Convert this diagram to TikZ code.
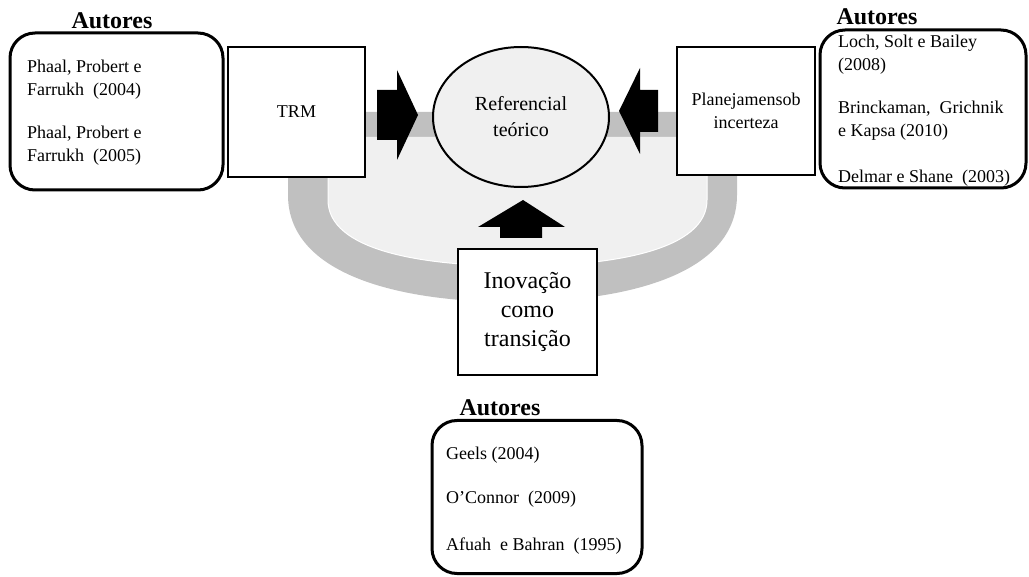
\documentclass[tikz,border=0pt]{standalone}
\usepackage{fontspec}
\setmainfont{Liberation Serif}
\usetikzlibrary{shapes.geometric}
\definecolor{band}{HTML}{C0C0C0}
\definecolor{inner}{HTML}{F0F0F0}
\tikzset{
  rbox/.style={draw=black, line width=3pt, rounded corners=25pt, inner sep=0pt},
  sqbox/.style={draw=black, line width=2pt, fill=white, inner sep=0pt},
  autor/.style={font=\fontsize{24}{28}\selectfont\bfseries, inner sep=0pt},
  ref/.style={font=\fontsize{18}{23}\selectfont, align=left, anchor=west, inner sep=0pt},
  blockarrow/.style={fill=black},
}
\begin{document}
\begin{tikzpicture}[x=1pt,y=-1pt]
\useasboundingbox (0,0) rectangle (1029,577);
% bowl band
\fill[band] (288,112) -- (737,112) -- (737,195)
  .. controls (737,275) and (625,302) .. (512,302)
  .. controls (400,302) and (288,275) .. (288,195) -- cycle;
\fill[inner] (328,137) -- (707,137) -- (707,200)
  .. controls (707,250) and (614,266) .. (517,266)
  .. controls (420,266) and (328,250) .. (328,200) -- cycle;
\draw[white, line width=1pt] (707,175) -- (707,200)
  .. controls (707,250) and (614,266) .. (517,266)
  .. controls (420,266) and (328,250) .. (328,200) -- (328,175);

% rounded author boxes
\node[rbox, minimum width=213pt, minimum height=157pt] (boxL) at (116.5,111.5) {};
\node[rbox, minimum width=206pt, minimum height=158pt] (boxR) at (923,109) {};
\node[rbox, minimum width=210pt, minimum height=153pt] (boxB) at (537,497) {};

% square boxes
\node[sqbox, minimum width=137pt, minimum height=130pt, font=\fontsize{18}{23}\selectfont] (trm) at (296.5,112) {TRM};
\node[sqbox, minimum width=138pt, minimum height=128pt, font=\fontsize{18}{23}\selectfont, align=center] (plan) at (746,111) {Planejamensob\\incerteza};
\node[sqbox, minimum width=139pt, minimum height=126pt, font=\fontsize{24}{29}\selectfont, align=center] (inov) at (527.5,312) {Inovação\\como\\transição};

% ellipse
\node[draw=black, line width=2pt, fill=inner, ellipse, minimum width=176pt, minimum height=140pt, inner sep=0pt,
  font=\fontsize{20}{26}\selectfont, align=center] (refer) at (521,117) {Referencial\\teórico};

% block arrows
\fill[blockarrow] (377,90) -- (397,90) -- (397,70) -- (418,115) -- (397,160) -- (397,140) -- (377,140) -- cycle;
\fill[blockarrow] (658,90) -- (640,90) -- (640,68) -- (619,111) -- (640,154) -- (640,132) -- (658,132) -- cycle;
\fill[blockarrow] (500,238) -- (500,227) -- (478,227) -- (523,200) -- (565,227) -- (542,227) -- (542,238) -- cycle;

% Autores titles
\node[autor] (autL) at (112,21) {Autores};
\node[autor] (autR) at (877,17) {Autores};
\node[autor] (autB) at (500,408) {Autores};

% references left
\node[ref] (l1) at (27,79.5) {Phaal, Probert e\\Farrukh\ \ (2004)};
\node[ref] (l2) at (27,146) {Phaal, Probert e\\Farrukh\ \ (2005)};
% references right
\node[ref] (r1) at (838,55) {Loch, Solt e Bailey\\(2008)};
\node[ref] (r2) at (838,121) {Brinckaman,\ \ Grichnik\\e Kapsa (2010)};
\node[ref] (r3) at (838,178) {Delmar e Shane\ \ (2003)};
% references bottom
\node[ref] (b1) at (446,455) {Geels (2004)};
\node[ref] (b2) at (446,499) {O’Connor\ \ (2009)};
\node[ref] (b3) at (446,546) {Afuah\ \ e Bahran\ \ (1995)};
\end{tikzpicture}
\end{document}
